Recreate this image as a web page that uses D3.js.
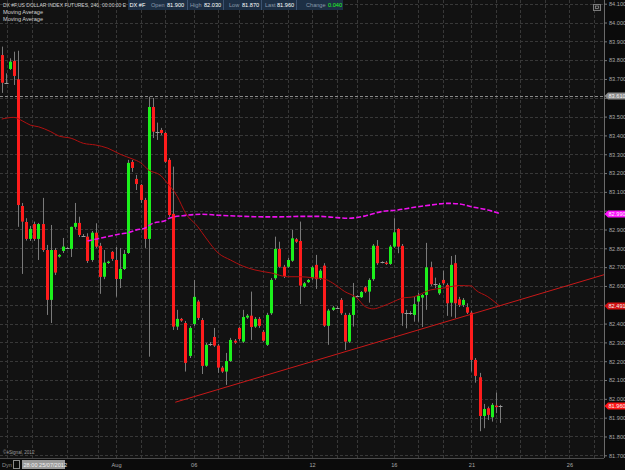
<!DOCTYPE html>
<html>
<head>
<meta charset="utf-8">
<style>
  body { margin: 0; background: #0a0a0a; }
  svg { display: block; font-family: "Liberation Sans", Arial, sans-serif; }
  .grid line { stroke: #383838; stroke-dasharray: 3,2; }
  .yaxis text, .xaxis text { fill: #a8a8a8; font-size: 5.6px; }
  .yaxis line { stroke: #777; }
  .yaxis path, .xaxis path { display: none; }
  .xaxis line { display: none; }
  .hdr { fill: #d0d0d0; font-size: 5.6px; }
</style>
<title>DX #F</title>
</head>
<body>
<script src="https://cdn.jsdelivr.net/npm/d3@7"></script>
<script>

// 240-minute bars of DX #F, one entry per bar (left to right)
var opens = [83.827,83.677,83.753,83.796,83.698,83.025,82.940,82.850,82.929,82.850,
  82.929,82.791,82.526,82.791,82.756,82.786,82.802,82.797,82.914,82.935,
  82.867,82.862,82.738,82.883,82.813,82.649,82.722,82.781,82.738,82.637,
  82.690,82.775,83.259,83.169,83.137,83.057,82.850,83.551,83.418,83.429,
  83.413,83.270,82.983,82.384,82.425,82.403,82.228,82.398,82.517,82.419,
  82.176,82.292,82.329,82.283,82.166,82.145,82.201,82.309,82.377,82.304,
  82.432,82.442,82.384,82.425,82.356,82.287,82.455,82.641,82.797,82.702,
  82.702,82.734,82.848,82.839,82.596,82.620,82.641,82.712,82.641,82.708,
  82.388,82.473,82.485,82.526,82.446,82.304,82.446,82.547,82.540,82.593,
  82.570,82.636,82.813,82.726,82.724,82.717,82.809,82.903,82.813,82.455,
  82.455,82.446,82.517,82.538,82.552,82.699,82.609,82.561,82.632,82.605,
  82.511,82.721,82.529,82.499,82.487,82.458,82.207,82.115,81.909,81.950,
  81.902,81.964,81.960];
var highs = [83.872,83.730,83.810,83.845,83.850,83.041,82.960,82.919,82.942,82.935,
  83.068,82.818,82.924,82.802,82.770,82.855,82.807,82.915,83.041,82.968,
  82.876,82.880,82.892,82.933,82.829,82.791,82.734,82.786,82.807,82.802,
  82.791,83.270,83.270,83.190,83.142,83.068,83.606,83.599,83.468,83.440,
  83.418,83.280,83.234,82.473,82.430,82.414,82.387,82.632,82.526,82.430,
  82.297,82.302,82.377,82.292,82.175,82.244,82.324,82.318,82.382,82.473,
  82.451,82.570,82.435,82.435,82.366,82.457,82.642,82.862,82.835,82.712,
  82.749,82.898,82.855,82.942,82.621,82.637,82.706,82.765,82.690,82.721,
  82.478,82.494,82.494,82.536,82.457,82.457,82.616,82.552,82.573,82.600,
  82.641,82.823,82.844,82.731,82.733,82.818,82.960,82.907,82.823,82.473,
  82.466,82.543,82.563,82.557,82.829,82.729,82.644,82.616,82.681,82.614,
  82.759,82.765,82.542,82.536,82.508,82.467,82.217,82.138,81.973,81.959,
  81.978,82.033,81.968];
var lows = [83.626,83.675,83.748,83.668,82.914,82.664,82.841,82.839,82.839,82.738,
  82.781,82.446,82.403,82.658,82.750,82.775,82.797,82.754,82.903,82.860,
  82.862,82.722,82.728,82.802,82.558,82.636,82.717,82.733,82.543,82.589,
  82.685,82.770,83.206,83.110,83.041,82.802,82.224,83.386,83.376,83.402,
  83.254,82.967,82.366,82.366,82.409,82.145,82.217,82.387,82.419,82.132,
  82.170,82.281,82.276,82.138,82.138,82.074,82.196,82.292,82.308,82.297,
  82.425,82.313,82.377,82.377,82.302,82.281,82.446,82.632,82.696,82.642,
  82.696,82.728,82.828,82.504,82.589,82.616,82.632,82.584,82.632,82.382,
  82.287,82.467,82.478,82.446,82.260,82.297,82.384,82.541,82.536,82.563,
  82.511,82.627,82.712,82.720,82.712,82.712,82.802,82.774,82.388,82.375,
  82.446,82.410,82.410,82.382,82.473,82.600,82.588,82.552,82.605,82.441,
  82.437,82.430,82.488,82.488,82.451,82.145,82.086,81.828,81.844,81.888,
  81.879,81.924,81.872];
var closes = [83.680,83.677,83.792,83.716,83.030,82.942,82.850,82.903,82.850,82.929,
  82.791,82.526,82.791,82.671,82.765,82.809,82.802,82.914,82.935,82.871,
  82.867,82.733,82.883,82.809,82.648,82.724,82.729,82.744,82.637,82.690,
  82.770,83.254,83.227,83.142,83.057,82.850,83.551,83.420,83.418,83.413,
  83.260,82.977,82.384,82.425,82.416,82.191,82.377,82.542,82.430,82.175,
  82.287,82.292,82.283,82.166,82.145,82.201,82.313,82.299,82.318,82.435,
  82.442,82.382,82.425,82.388,82.309,82.446,82.632,82.797,82.702,82.653,
  82.738,82.853,82.835,82.602,82.614,82.632,82.699,82.636,82.681,82.389,
  82.469,82.485,82.485,82.455,82.304,82.446,82.540,82.547,82.568,82.570,
  82.632,82.814,82.721,82.726,82.717,82.809,82.885,82.809,82.455,82.455,
  82.455,82.503,82.548,82.552,82.699,82.609,82.609,82.605,82.614,82.508,
  82.712,82.508,82.499,82.526,82.458,82.207,82.122,81.909,81.946,81.915,
  81.968,81.956,81.960];

// slow moving average (dark red), read at some bars
var maSlowBar = [0,3,5,7,9,12,14,17,20,23,26,29,32,34,36,39,40,43,45,48,50,53,56,59,62,66,70,73,76,79,81,84,87,89,91,93,96,98,101,105,108,112,115,116,119,122];
var maSlowVal = [83.487,83.496,83.478,83.455,83.446,83.420,83.397,83.385,83.358,83.349,
  83.332,83.300,83.275,83.255,83.216,83.186,83.161,83.075,82.988,82.915,
  82.855,82.775,82.738,82.706,82.685,82.669,82.649,82.649,82.644,82.637,
  82.616,82.570,82.536,82.490,82.478,82.490,82.517,82.535,82.543,82.579,
  82.588,82.602,82.600,82.579,82.543,82.491];

// second moving average (magenta, dashed)
var maLongBar = [21,23,29,31,33,35,37,40,41,45,49,53,57,62,66,70,74,78,81,85,89,93,97,101,105,109,112,115,119,122];
var maLongVal = [82.839,82.848,82.876,82.883,82.898,82.907,82.933,82.947,82.960,82.975,
  82.981,82.976,82.972,82.968,82.967,82.968,82.970,82.970,82.965,82.960,
  82.972,82.995,83.004,83.018,83.030,83.039,83.036,83.021,83.004,82.985];

// trend line (two anchor points: bar, price)
var trendBar = [42.5, 150];
var trendVal = [81.982, 82.676];

// axes
var priceTicks = d3.range(817, 842).map(function(v) { return v / 10; });
var dateBar = [28, 47, 76, 96, 115, 139];
var dateLabels = ["Aug", "06", "12", "16", "21", "26"];
var vGridBar = [1.4, 7.5, 16, 23.5, 28, 34, 40, 47, 53, 58, 64, 70, 76, 82, 87, 96, 102, 108, 115, 121, 127, 133, 139, 145];

// markers on the price axis
var markVal = [83.610, 82.985, 82.491, 81.960];
var markText = ["83.610", "82.990", "82.491", "81.960"];
var markFill = ["#8a8a8a", "#ff10ff", "#d01010", "#ff1515"];

var W = 625, H = 470;
var plotR = 604, plotB = 458;

var x = d3.scaleLinear().domain([0, 122]).range([1.7, 500]);
var y = d3.scaleLinear().domain([81.7, 84.1]).range([455.3, 3.7]);

var svg = d3.select("body").append("svg")
    .attr("width", W).attr("height", H);

svg.append("rect").attr("width", W).attr("height", H).attr("fill", "#0b0b0b");
svg.append("rect").attr("width", plotR).attr("height", plotB).attr("fill", "#121212");

var plot = svg.append("g");
var clip = svg.append("clipPath").attr("id", "clip")
  .append("rect").attr("width", plotR).attr("height", plotB);

// grid
var grid = plot.append("g").attr("class", "grid");
grid.selectAll(".h").data(priceTicks).enter().append("line")
    .attr("x1", 0).attr("x2", plotR)
    .attr("y1", function(d) { return Math.round(y(d)) + 0.5; })
    .attr("y2", function(d) { return Math.round(y(d)) + 0.5; });
grid.selectAll(".v").data(vGridBar).enter().append("line")
    .attr("y1", 0).attr("y2", plotB)
    .attr("x1", function(d) { return Math.round(x(d)) + 0.5; })
    .attr("x2", function(d) { return Math.round(x(d)) + 0.5; });

// price line at 83.610
plot.append("line")
    .attr("x1", 0).attr("x2", plotR)
    .attr("y1", Math.round(y(markVal[0])) + 0.5).attr("y2", Math.round(y(markVal[0])) + 0.5)
    .attr("stroke", "#8a8a8a").attr("stroke-dasharray", "3,2");

// candles
var bars = d3.range(opens.length);
var cg = plot.append("g").attr("clip-path", "url(#clip)");
cg.selectAll(".wick").data(bars).enter().append("line")
    .attr("x1", function(i) { return Math.round(x(i)) + 0.5; })
    .attr("x2", function(i) { return Math.round(x(i)) + 0.5; })
    .attr("y1", function(i) { return y(highs[i]); })
    .attr("y2", function(i) { return y(lows[i]); })
    .attr("stroke", "#7a7a7a");

cg.selectAll(".body").data(bars.filter(function(i) { return opens[i] != closes[i]; }))
  .enter().append("rect")
    .attr("x", function(i) { return Math.round(x(i)) - 1; })
    .attr("width", 3)
    .attr("y", function(i) { return y(Math.max(opens[i], closes[i])); })
    .attr("height", function(i) { return Math.max(1.2, Math.abs(y(opens[i]) - y(closes[i]))); })
    .attr("fill", function(i) { return closes[i] > opens[i] ? "#1cf01c" : "#ff1c1c"; });

cg.selectAll(".doji").data(bars.filter(function(i) { return opens[i] == closes[i]; }))
  .enter().append("line")
    .attr("x1", function(i) { return Math.round(x(i)) - 1.5; })
    .attr("x2", function(i) { return Math.round(x(i)) + 2.5; })
    .attr("y1", function(i) { return Math.round(y(closes[i])) + 0.5; })
    .attr("y2", function(i) { return Math.round(y(closes[i])) + 0.5; })
    .attr("stroke", "#9a9a9a");

// moving averages and trend line
var line = d3.line().x(function(d) { return x(d[0]); }).y(function(d) { return y(d[1]); });

cg.append("path")
    .datum(d3.zip(maSlowBar, maSlowVal))
    .attr("d", line.curve(d3.curveMonotoneX))
    .attr("fill", "none").attr("stroke", "#b01010").attr("stroke-width", 1);

cg.append("path")
    .datum(d3.zip(maLongBar, maLongVal))
    .attr("d", line.curve(d3.curveMonotoneX))
    .attr("fill", "none").attr("stroke", "#ee10ee").attr("stroke-width", 1.6)
    .attr("stroke-dasharray", "5,2");

cg.append("path")
    .datum(d3.zip(trendBar, trendVal))
    .attr("d", line.curve(d3.curveLinear))
    .attr("fill", "none").attr("stroke", "#c81818").attr("stroke-width", 1);

// frame
svg.append("line").attr("x1", plotR + 0.5).attr("x2", plotR + 0.5).attr("y1", 0).attr("y2", plotB)
    .attr("stroke", "#6a6a6a");
svg.append("line").attr("x1", 0).attr("x2", plotR).attr("y1", plotB + 0.5).attr("y2", plotB + 0.5)
    .attr("stroke", "#4a4a4a");

// price axis
var hidden = [83.6, 83.0, 82.5];
svg.append("g").attr("class", "yaxis")
    .attr("transform", "translate(" + plotR + ",0)")
    .call(d3.axisRight(y).tickValues(priceTicks).tickSize(3).tickPadding(2)
      .tickFormat(function(d) {
        return hidden.some(function(h) { return Math.abs(h - d) < 1e-6; }) ? "" : d3.format(".3f")(d);
      }));

var mk = svg.append("g").selectAll("g").data(markVal).enter().append("g")
    .attr("transform", function(d) { return "translate(" + plotR + "," + Math.round(y(d)) + ")"; });
mk.append("path")
    .attr("d", "M0.5,0 L4,-3.5 L21,-3.5 L21,3.5 L4,3.5 Z")
    .attr("fill", function(d, i) { return markFill[i]; });
mk.append("text")
    .attr("x", 4.5).attr("y", 2)
    .attr("fill", "#f4f4f4").style("font-size", "5.6px")
    .text(function(d, i) { return markText[i]; });

// date axis
svg.append("g").attr("class", "xaxis")
    .attr("transform", "translate(0," + plotB + ")")
    .call(d3.axisBottom(x).tickValues(dateBar).tickSize(0).tickPadding(5)
      .tickFormat(function(d, i) { return dateLabels[i]; }));

svg.append("text").attr("x", 2).attr("y", 467).attr("fill", "#8a8a8a")
    .style("font-size", "5.6px").text("Dyn");
svg.append("rect").attr("x", 13.5).attr("y", 460.5).attr("width", 6).attr("height", 8)
    .attr("fill", "none").attr("stroke", "#8a8a8a");
svg.append("rect").attr("x", 22).attr("y", 460).attr("width", 43).attr("height", 9)
    .attr("fill", "#9a9a9a");
svg.append("text").attr("x", 23.5).attr("y", 466.8).attr("fill", "#f0f0f0")
    .style("font-size", "5.6px").text("28:00 25/07/2012");
svg.append("text").attr("x", 3).attr("y", 454).attr("fill", "#9a9a9a")
    .style("font-size", "4.6px").text("\u00a9eSignal, 2012");

// header
svg.append("text").attr("class", "hdr").attr("x", 3).attr("y", 6.5)
    .style("font-size", "5px")
    .text("DX #F,US DOLLAR INDEX FUTURES, 240, 00:00:00 E");
svg.append("text").attr("class", "hdr").attr("x", 3).attr("y", 14)
    .text("Moving Average");
svg.append("text").attr("class", "hdr").attr("x", 3).attr("y", 21)
    .text("Moving Average");

var panel = svg.append("g");
panel.append("rect").attr("x", 128).attr("y", 0).attr("width", 215).attr("height", 10)
    .attr("fill", "#1d2f44");
var pLabels = [["DX #F", 129.5, "#ffffff"], ["Open", 151, "#8a9aaa"], ["81.900", 167, "#ffffff"],
               ["High", 190, "#8a9aaa"], ["82.030", 204, "#ffffff"],
               ["Low", 229, "#8a9aaa"], ["81.870", 242, "#ffffff"],
               ["Last", 265, "#8a9aaa"], ["81.960", 277, "#ffffff"],
               ["Change", 306, "#8a9aaa"], ["0.040", 328, "#20ff20"]];
panel.selectAll("text").data(pLabels).enter().append("text")
    .attr("x", function(d) { return d[1]; }).attr("y", 7)
    .attr("fill", function(d) { return d[2]; })
    .style("font-size", "5.6px")
    .text(function(d) { return d[0]; });
panel.selectAll("line").data([187, 223, 261, 296]).enter().append("line")
    .attr("x1", function(d) { return d + 0.5; }).attr("x2", function(d) { return d + 0.5; })
    .attr("y1", 0).attr("y2", 10).attr("stroke", "#3b5270");

svg.append("rect").attr("x", 593.5).attr("y", 4.5).attr("width", 7).attr("height", 6)
    .attr("fill", "#1e1e1e").attr("stroke", "#7a7a7a");
svg.append("rect").attr("x", 595.5).attr("y", 6).attr("width", 3).attr("height", 2.5)
    .attr("fill", "none").attr("stroke", "#9a9a9a").attr("stroke-width", 0.7);

</script>
</body>
</html>
